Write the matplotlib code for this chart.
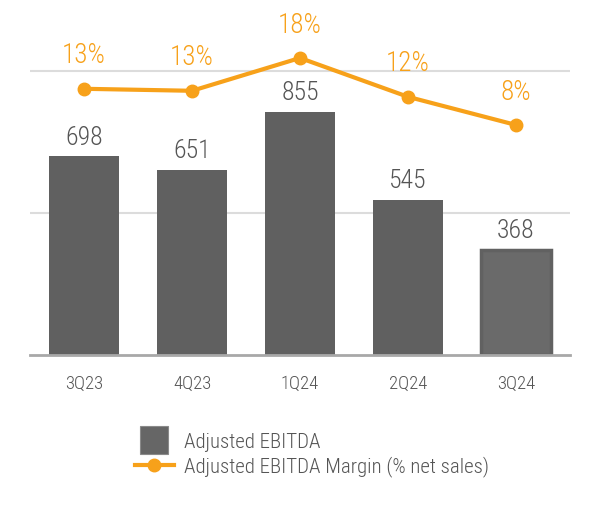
import matplotlib
matplotlib.use("Agg")
import matplotlib.pyplot as plt
from matplotlib.lines import Line2D

# data
quarters = ["3Q23", "4Q23", "1Q24", "2Q24", "3Q24"]
ebitda = [698, 651, 855, 545, 368]
margin = [13.4, 13.1, 18.0, 12.2, 8.0]
margin_labels = ["13%", "13%", "18%", "12%", "8%"]

plt.rcParams['font.family'] = ['Roboto Condensed', 'DejaVu Sans']
plt.rcParams['font.weight'] = 300

bar_color = "#606060"
orange = "#f7a11a"
text_gray = "#555555"

fig = plt.figure(figsize=(6, 5.2), dpi=100)
ax = fig.add_axes([0.05, 0.3173, 0.9, 0.6635])

x = list(range(len(quarters)))
bars = ax.bar(x, ebitda, width=0.65, color=bar_color, zorder=2)
# last bar is a bit lighter with a darker rim
bars[-1].set_facecolor("#6a6a6a")
bars[-1].set_edgecolor("#616161")
bars[-1].set_linewidth(2.5)

ax.set_xlim(-0.5, 4.5)
ax.set_ylim(0, 1213)
ax.set_yticks([500, 1000])
ax.yaxis.grid(True, color="#dcdcdc", linewidth=1.5, zorder=0)
ax.set_xticks(x)
ax.set_xticklabels(quarters)
for s in ["top", "right", "left"]:
    ax.spines[s].set_visible(False)
ax.spines["bottom"].set_color("#a8a8a8")
ax.spines["bottom"].set_linewidth(2)

for xi, v in zip(x, ebitda):
    ax.annotate(str(v), (xi, v), xytext=(0, 5), textcoords="offset points",
                ha="center", va="bottom", fontsize=18.5, color=text_gray)

ax2 = ax.twinx()
ax2.set_ylim(-26.33, 25.16)
ax2.axis("off")
ax2.plot(x, margin, color=orange, linewidth=3, marker="o", markersize=9, zorder=3)
for xi, v, lab in zip(x, margin, margin_labels):
    ax2.annotate(lab, (xi, v), xytext=(0, 14), textcoords="offset points",
                 ha="center", va="bottom", fontsize=19.5, color=orange)

# twinx turns the left ticks back on, so hide them afterwards
ax.tick_params(axis="y", left=False, labelleft=False)
ax.tick_params(axis="x", bottom=False, colors=text_gray, labelsize=13.5, pad=11)

handles = [Line2D([], [], marker="s", markersize=20, linestyle="none",
                  color="#666666", markeredgecolor="#8a8a8a", markeredgewidth=0.8),
           Line2D([], [], color=orange, linewidth=3, marker="o", markersize=9)]
fig.legend(handles, ["Adjusted EBITDA", "Adjusted EBITDA Margin (% net sales)"],
           loc="upper left", bbox_to_anchor=(0.225, 0.168), frameon=False,
           borderpad=0, borderaxespad=0,
           fontsize=15, labelcolor=text_gray, handlelength=1.85,
           labelspacing=0.22, handletextpad=0.5)

fig.savefig("out.png", dpi=100)
